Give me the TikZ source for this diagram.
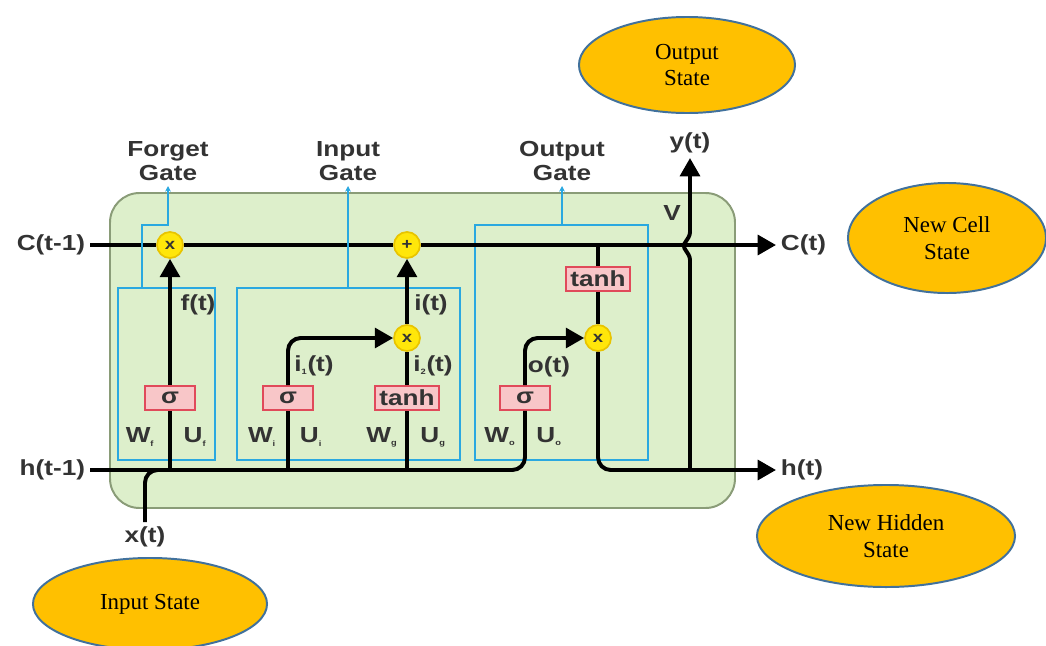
\documentclass[tikz,border=0pt]{standalone}
\usepackage{fontspec}
\setmainfont{Liberation Serif}
\newfontfamily\lblfont[FakeStretch=1.2]{Liberation Sans}
\usepackage{xcolor}
\usetikzlibrary{arrows.meta,shapes.geometric}

\definecolor{cellgreen}{HTML}{DDEFCB}
\definecolor{celledge}{HTML}{8A9C78}
\definecolor{gateblue}{HTML}{2AA8E0}
\definecolor{fnred}{HTML}{E04A5A}
\definecolor{fnpink}{HTML}{F8C6C8}
\definecolor{opyellow}{HTML}{FFE60A}
\definecolor{opedge}{HTML}{E8C400}
\definecolor{stategold}{HTML}{FFC000}
\definecolor{stateblue}{HTML}{41719C}
\definecolor{labelgray}{HTML}{333333}
\newcommand{\sub}[1]{\textsubscript{\fontsize{5.5}{6}\selectfont #1}}

\begin{document}
\begin{tikzpicture}[x=0.025cm, y=-0.025cm,
  every node/.style={font=\lblfont\bfseries\fontsize{15.5}{17}\selectfont,
                     text=labelgray},
  cell/.style={draw=celledge, fill=cellgreen, line width=1.4pt,
               rounded corners=21pt},
  gate/.style={draw=gateblue, line width=1.6pt},
  fn/.style={draw=fnred, fill=fnpink, line width=1.4pt, minimum width=35pt,
             minimum height=17pt, inner sep=1pt},
  op/.style={circle, draw=opedge, fill=opyellow, line width=1.2pt,
             minimum size=18.5pt, inner sep=0pt,
             font=\lblfont\bfseries\fontsize{11}{11}\selectfont},
  flow/.style={line width=2.8pt, rounded corners=9pt},
  arr/.style={-{Triangle[length=13pt,width=14pt]}},
  ptr/.style={-{Stealth[length=4pt,width=4pt]}, gateblue, line width=1pt},
  state/.style={ellipse, draw=stateblue, fill=stategold, line width=1.4pt,
                font=\rmfamily\fontsize{16.3}{19}\selectfont, text=black,
                align=center, inner sep=0pt}
]
\useasboundingbox (0,0) rectangle (1046,645);

% cell and gate boxes
\draw[cell] (110,193) rectangle (735,508);
\draw[gate] (118,288) rectangle (215,460);
\draw[gate] (237,288) rectangle (460,460);
\draw[gate] (475,225) rectangle (648,460);

% inputs and outputs
\node[anchor=east] (cprev) at (90,245) {C(t-1)};
\node[anchor=east] (hprev) at (90,470) {h(t-1)};
\node[anchor=north] (xt) at (145,522) {x(t)};
\node[anchor=west] (ct) at (776,245) {C(t)};
\node[anchor=west] (ht) at (776,470) {h(t)};
\node[anchor=south] (yt) at (690,158) {y(t)};

% gate labels
\node[anchor=south, align=center] (fgl) at (168,186) {Forget\\Gate};
\node[anchor=south, align=center] (igl) at (348,186) {Input\\Gate};
\node[anchor=south, align=center] (ogl) at (562,186) {Output\\Gate};

% pointwise ops
\node[op] (fx) at (170,245) {x};
\node[op] (px) at (407,245) {+};
\node[op] (ix) at (407,338) {x};
\node[op] (ox) at (598,338) {x};

% activation boxes
\node[fn] (sf) at (170,398) {σ};
\node[fn] (si) at (288,398) {σ};
\node[fn, minimum width=45pt] (tg) at (407,398) {tanh};
\node[fn] (so) at (525,398) {σ};
\node[fn, minimum width=45pt] (tc) at (598,279) {tanh};

% taps on the lines
\coordinate (xj) at (185,470);
\coordinate (fj) at (170,470);
\coordinate (ij) at (288,470);
\coordinate (gj) at (407,470);
\coordinate (cj) at (598,245);
\coordinate (yj) at (690,470);
\coordinate (ftap) at (142,288);
\coordinate (fbend) at (168,225);
\coordinate (itap) at (348,288);
\coordinate (otap) at (562,225);

% cell state line
\draw[flow] (cprev.east) -- (fx.west);
\draw[flow] (fx.east) -- (px.west);
\draw[flow, arr] (px.east) -- (ct.west);

% hidden state and input
\draw[flow] (hprev.east) -| (so.south);
\draw[flow] (xt.north) |- (xj);

% forget gate
\draw[flow] (fj) -- (sf.south);
\draw[flow, arr] (sf.north) -- (fx.south);

% input gate
\draw[flow] (ij) -- (si.south);
\draw[flow, arr] (si.north) |- (ix.west);
\draw[flow] (gj) -- (tg.south);
\draw[flow] (tg.north) -- (ix.south);
\draw[flow, arr] (ix.north) -- (px.south);

% output gate
\draw[flow, arr] (so.north) |- (ox.west);
\draw[flow] (cj) -- (tc.north);
\draw[flow] (tc.south) -- (ox.north);
\draw[flow, arr] (ox.south) |- (ht.west);
\draw[flow, arr, rounded corners=2pt] (yj) -- (690,257) -- (683,246)
  -- (690,235) -- (yt.south);

% gate pointers
\draw[ptr] (ftap) |- (fbend) -- (fgl.south);
\draw[ptr] (itap) -- (igl.south);
\draw[ptr] (otap) -- (ogl.south);

% signal labels
\node (fl) at (198,305) {f(t)};
\node (il) at (431,305) {i(t)};
\node (i1l) at (314,366) {i\sub{1}(t)};
\node (i2l) at (433,366) {i\sub{2}(t)};
\node (ol) at (549,367) {o(t)};
\node (vl) at (672,213) {V};
\foreach \x/\s in {140/f,262/i,382/g,500/o}
  \node (w\s) at (\x,437) {W\sub{\s}};
\foreach \x/\s in {195/f,311/i,433/g,549/o}
  \node (u\s) at (\x,437) {U\sub{\s}};

% state ellipses
\node[state, minimum width=5.4cm, minimum height=2.4cm] (outst)
  at (687,65) {Output\\State};
\node[state, minimum width=4.95cm, minimum height=2.75cm] (cellst)
  at (947,238) {New Cell\\State};
\node[state, minimum width=6.45cm, minimum height=2.55cm] (hidst)
  at (886,536) {New Hidden\\State};
\node[state, minimum width=5.85cm, minimum height=2.3cm] (inst)
  at (150,604) {Input State};
\end{tikzpicture}
\end{document}
